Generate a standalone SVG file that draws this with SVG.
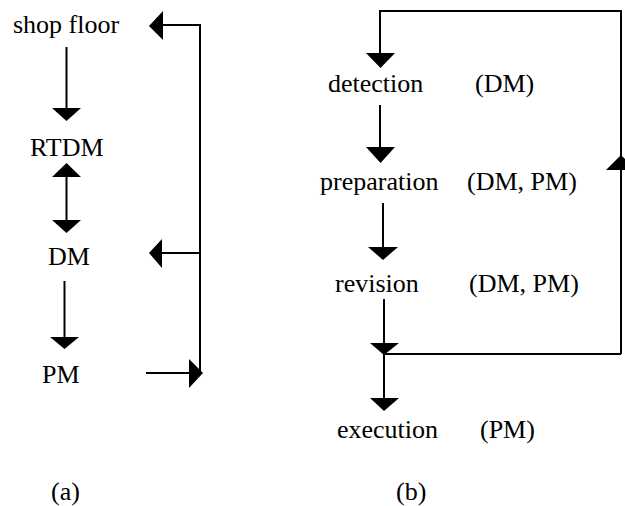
<svg xmlns="http://www.w3.org/2000/svg" width="625" height="506" viewBox="0 0 625 506">
  <style>
    .lbl { font-family: "Liberation Serif", "Times New Roman", "DejaVu Serif", serif; font-size: 26px; fill: #000; }
    .ln { fill: none; stroke: #000; stroke-width: 2; }
    .hd { fill: #000; stroke: none; }
  </style>
  <rect width="625" height="506" fill="#fff"/>

  <!-- (a) hierarchy -->
  <g id="shop-floor"><text class="lbl" x="13" y="33">shop floor</text></g>
  <g id="rtdm"><text class="lbl" x="30" y="156">RTDM</text></g>
  <g id="dm"><text class="lbl" x="48" y="265">DM</text></g>
  <g id="pm"><text class="lbl" x="42" y="383">PM</text></g>
  <g id="caption-a"><text class="lbl" x="51" y="500">(a)</text></g>

  <!-- (b) decision cycle -->
  <g id="detection"><text class="lbl" x="328" y="92">detection</text><text class="lbl" x="475" y="92">(DM)</text></g>
  <g id="preparation"><text class="lbl" x="320" y="190">preparation</text><text class="lbl" x="467" y="190">(DM, PM)</text></g>
  <g id="revision"><text class="lbl" x="335" y="292">revision</text><text class="lbl" x="469" y="292">(DM, PM)</text></g>
  <g id="execution"><text class="lbl" x="337" y="438">execution</text><text class="lbl" x="480" y="438">(PM)</text></g>
  <g id="caption-b"><text class="lbl" x="396" y="500">(b)</text></g>

  <g id="connectors">
    <!-- (a) vertical chain -->
    <line class="ln" x1="66.5" y1="47" x2="66.5" y2="109"/>
    <polygon class="hd" points="52,108 81,108 66.5,121"/>
    <line class="ln" x1="66.5" y1="176" x2="66.5" y2="221"/>
    <polygon class="hd" points="52,177 81,177 66.5,163"/>
    <polygon class="hd" points="52,220 81,220 66.5,233"/>
    <line class="ln" x1="64.5" y1="281" x2="64.5" y2="338"/>
    <polygon class="hd" points="50,337 79,337 64.5,349"/>

    <!-- (a) feedback bus -->
    <polyline class="ln" points="146,373 200,373 200,25 162,25"/>
    <polygon class="hd" points="163,11 163,40 149,26"/>
    <line class="ln" x1="200" y1="253" x2="161" y2="253"/>
    <polygon class="hd" points="162,239 162,268 149,253"/>
    <polygon class="hd" points="189,359 189,388 203,373"/>

    <!-- (b) main flow -->
    <polyline class="ln" points="621,354 621,11 380,11 380,54"/>
    <polygon class="hd" points="366,53 395,53 380.5,68"/>
    <polygon class="hd" points="606,170 636,170 621,155"/>
    <line class="ln" x1="380" y1="105" x2="380" y2="148"/>
    <polygon class="hd" points="366,147 395,147 380.5,163"/>
    <line class="ln" x1="383" y1="203" x2="383" y2="248"/>
    <polygon class="hd" points="368,247 398,247 383,260"/>
    <line class="ln" x1="384" y1="299" x2="384" y2="399"/>
    <polygon class="hd" points="370,343 399,343 384,355"/>
    <line class="ln" x1="384" y1="354" x2="621" y2="354"/>
    <polygon class="hd" points="370,398 399,398 384,411"/>
  </g>
</svg>
